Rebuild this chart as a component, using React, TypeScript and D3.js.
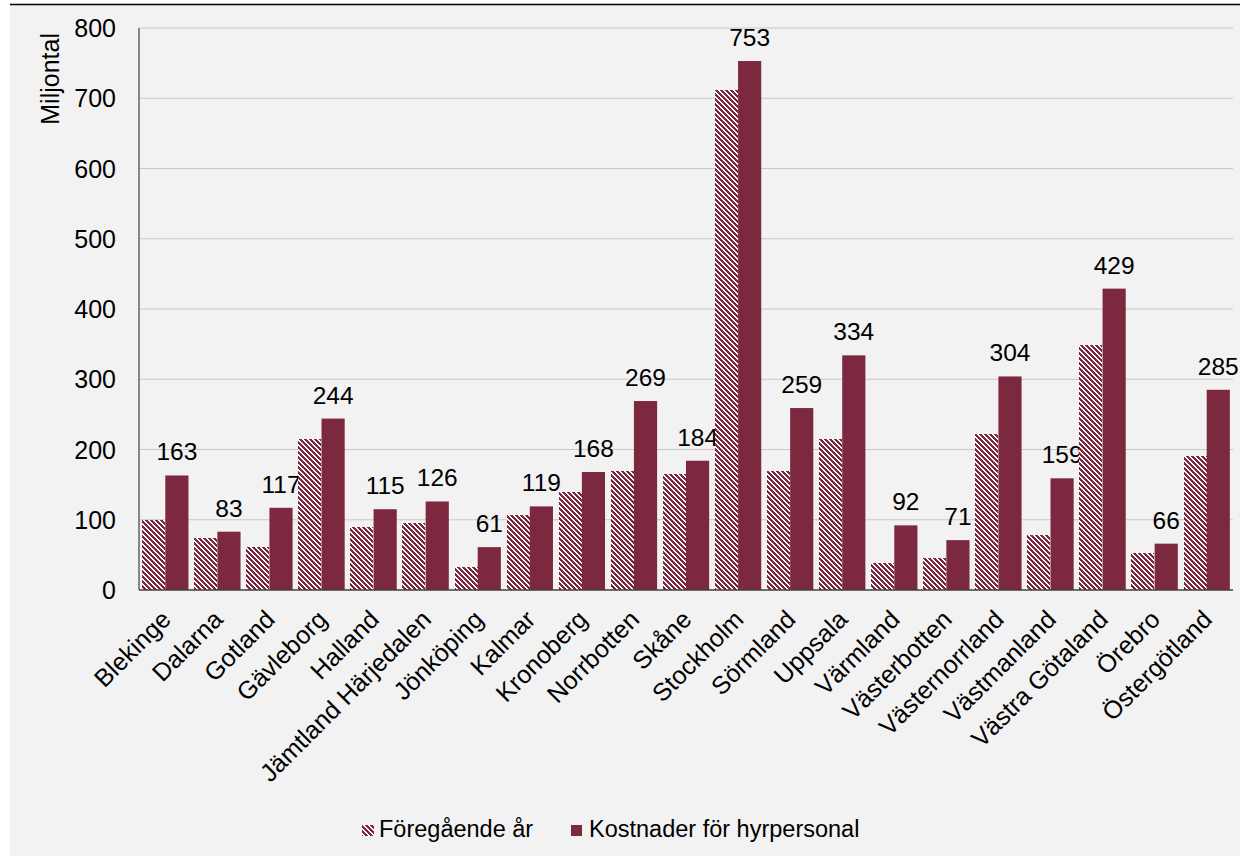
import React from "react";
import * as d3 from "d3";

const categories = ["Blekinge","Dalarna","Gotland","Gävleborg","Halland","Jämtland Härjedalen","Jönköping","Kalmar","Kronoberg","Norrbotten","Skåne","Stockholm","Sörmland","Uppsala","Värmland","Västerbotten","Västernorrland","Västmanland","Västra Götaland","Örebro","Östergötland"];
const previousYear = [100, 74, 61, 215, 89, 95, 33, 107, 139, 170, 165, 712, 170, 215, 38, 46, 222, 79, 349, 53, 191];
const hiredStaffCosts = [163, 83, 117, 244, 115, 126, 61, 119, 168, 269, 184, 753, 259, 334, 92, 71, 304, 159, 429, 66, 285];
const yTicks = [0, 100, 200, 300, 400, 500, 600, 700, 800];
const seriesNames = ["Föregående år", "Kostnader för hyrpersonal"];

const W = 1240, H = 856;
const M = { left: 139, right: 1233, top: 28, bottom: 590 };
const RED = "#7c2940";
const FONT = "'Liberation Sans', Arial, sans-serif";
const P = 5;
const hatchCells: number[][] = [];
for (let r = 0; r < P; r++) for (let k = 0; k < 3; k++) hatchCells.push([(r + k) % P, r]);

export default function App() {
  const x = d3.scaleBand<string>().domain(categories).range([M.left, M.right]).paddingInner(0.11).paddingOuter(0.06);
  const y = d3.scaleLinear().domain([0, 800]).range([M.bottom, M.top]);
  const inner = d3.scaleBand<number>().domain([0, 1]).range([0, x.bandwidth()]);

  return (
    <svg width={W} height={H} style={{ position: "absolute", left: 0, top: 0 }}>
      <defs>
        <pattern id="hatch" patternUnits="userSpaceOnUse" x="0" y="0" width={P} height={P}>
          <rect width={P} height={P} fill="#ffffff" />
          {hatchCells.map(([cx, cy], k) => (
            <rect key={k} x={cx} y={cy} width="1" height="1" fill={RED} shapeRendering="crispEdges" />
          ))}
        </pattern>
      </defs>
      <rect x={0} y={0} width={W} height={H} fill="#ffffff" />
      <rect x={10} y={5} width={W - 10} height={H - 5} fill="#f2f2f2" />
      <line x1={10} x2={W} y1={4.5} y2={4.5} stroke="#000" strokeWidth={1.5} />
      {yTicks.map((t) => (
        <g key={t}>
          {t > 0 && <line x1={M.left} x2={M.right} y1={y(t)} y2={y(t)} stroke="#c8c8c8" strokeWidth={1} />}
          <text x={116} y={y(t)} dy="0.36em" textAnchor="end" fontFamily={FONT} fontSize={25} fill="#000">{t}</text>
        </g>
      ))}
      {categories.map((c, i) => {
        const x0 = x(c)!;
        return (
          <g key={c}>
            <rect x={Math.round(x0 + inner(0)!)} y={Math.round(y(previousYear[i]))} width={Math.round(inner.bandwidth())} height={Math.round(y(0)) - Math.round(y(previousYear[i]))} fill="url(#hatch)" shapeRendering="crispEdges" />
            <rect x={x0 + inner(1)!} y={y(hiredStaffCosts[i])} width={inner.bandwidth()} height={y(0) - y(hiredStaffCosts[i])} fill={RED} />
            <text x={x0 + inner(1)! + inner.bandwidth() / 2} y={y(hiredStaffCosts[i]) - 15} textAnchor="middle" fontFamily={FONT} fontSize={24.5} fill="#000">{hiredStaffCosts[i]}</text>
            <text transform={`translate(${x0 + x.bandwidth() / 2 + 7},${M.bottom + 31}) rotate(-45)`} textAnchor="end" fontFamily={FONT} fontSize={25} fill="#000">{c}</text>
          </g>
        );
      })}
      <line x1={M.left} x2={M.left} y1={M.top} y2={M.bottom} stroke="#404040" strokeWidth={1.2} />
      <line x1={M.left} x2={M.right} y1={M.bottom} y2={M.bottom} stroke="#404040" strokeWidth={1.5} />
      <text transform={`translate(59,33) rotate(-90)`} textAnchor="end" fontFamily={FONT} fontSize={25} fill="#000">Miljontal</text>
      <g>
        <rect x={362} y={825} width={12} height={11} fill="url(#hatch)" shapeRendering="crispEdges" />
        <text x={379} y={837} fontFamily={FONT} fontSize={23.5} fill="#000">{seriesNames[0]}</text>
        <rect x={571} y={825} width={11} height={11} fill={RED} />
        <text x={589} y={837} fontFamily={FONT} fontSize={23.5} fill="#000">{seriesNames[1]}</text>
      </g>
    </svg>
  );
}
